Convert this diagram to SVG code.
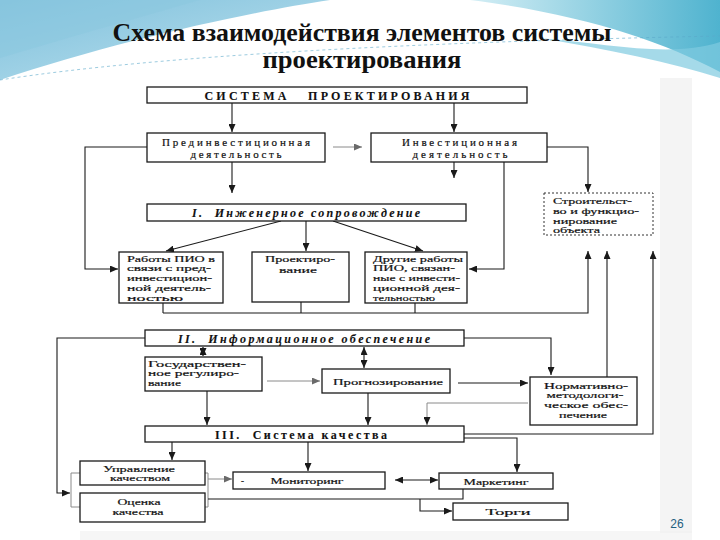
<svg xmlns="http://www.w3.org/2000/svg" width="720" height="540" viewBox="0 0 720 540">
<defs>
<style>
.box{fill:#fff;stroke:#1a1a1a;stroke-width:1.3}
.dbox{fill:#fff;stroke:#333;stroke-width:1;stroke-dasharray:2 2}
.t{font-family:"Liberation Serif","Times New Roman",serif;font-size:9px;fill:#111;stroke:#111;stroke-width:0.2}
.m{font-size:11px}
.b{font-weight:bold;font-size:12px;stroke-width:0.1}
.i{font-style:italic}
.c{text-anchor:middle}
.ln{fill:none;stroke:#1a1a1a;stroke-width:1.1}
.lg{fill:none;stroke:#8a8a8a;stroke-width:1}
.title{font-family:"Liberation Serif","Times New Roman",serif;font-weight:bold;font-size:26px;fill:#111;text-anchor:middle}
</style>
<marker id="a" viewBox="0 0 8 7" refX="8" refY="3.5" markerWidth="8" markerHeight="7" markerUnits="userSpaceOnUse" orient="auto-start-reverse"><path d="M0,0 L8,3.5 L0,7 z" fill="#1a1a1a"/></marker>
<marker id="ag" viewBox="0 0 8 7" refX="8" refY="3.5" markerWidth="8" markerHeight="7" markerUnits="userSpaceOnUse" orient="auto-start-reverse"><path d="M0,0 L8,3.5 L0,7 z" fill="#6a6a6a"/></marker>
<linearGradient id="gl" x1="0" y1="0" x2="1" y2="1"><stop offset="0" stop-color="#7fc0dc"/><stop offset="1" stop-color="#bfe3ef"/></linearGradient>
<linearGradient id="gr" x1="0" y1="0" x2="1" y2="0"><stop offset="0" stop-color="#d4eef5"/><stop offset="1" stop-color="#4fb3cf"/></linearGradient>
</defs>
<rect width="720" height="540" fill="#fff"/>
<g id="background">
<path d="M0,0 H330 C250,12 120,40 0,80 Z" fill="url(#gl)"/>
<path d="M0,0 H200 C130,20 60,40 0,58 Z" fill="#8cc8e0" opacity="0.6"/>
<path d="M470,0 H720 V72 C660,40 580,14 470,0 Z" fill="url(#gr)"/>
<path d="M540,38 C610,44 670,58 720,42 V78 C670,62 610,50 540,38 Z" fill="#7fcbe0" opacity="0.7"/>
<path d="M0,80 C160,55 420,42 720,36" fill="none" stroke="#5aa9c9" stroke-width="1" stroke-dasharray="3 3" opacity="0.6"/>
<rect x="660" y="78" width="32" height="455" fill="#ececec" opacity="0.6"/>
<rect x="80" y="531" width="612" height="9" fill="#f0f0f0" opacity="0.6"/>
</g>
<g id="title">
<text class="title" x="362" y="41" textLength="499" lengthAdjust="spacingAndGlyphs">Схема взаимодействия элементов системы</text>
<text class="title" x="362" y="68" textLength="199" lengthAdjust="spacingAndGlyphs">проектирования</text>
</g>
<g id="connectors">
<path class="ln" d="M232,103 V132" marker-end="url(#a)"/>
<path class="ln" d="M454,103 V132" marker-end="url(#a)"/>
<path class="lg" d="M333,147 H362" marker-end="url(#ag)"/>
<path class="ln" d="M232,162 V193" marker-end="url(#a)"/>
<path class="ln" d="M454,162 V178" marker-end="url(#a)"/>
<path class="ln" d="M147,147 H85 V269 H118" marker-end="url(#a)"/>
<path class="ln" d="M547,147 H588 V192" marker-end="url(#a)"/>
<path class="ln" d="M504,162 V269 H469" marker-end="url(#a)"/>
<path class="ln" d="M281,221 L166,251" marker-end="url(#a)"/>
<path class="ln" d="M306,221 V251" marker-end="url(#a)"/>
<path class="ln" d="M333,221 L423,251" marker-end="url(#a)"/>
<path class="ln" d="M163,303 V313 M301,302 V313 M415,303 V313"/>
<path class="ln" d="M163,313 H588 V251" marker-end="url(#a)"/>
<path class="ln" d="M607,377 V251" marker-end="url(#a)"/>
<path class="ln" d="M464,434 H653 V251" marker-end="url(#a)"/>
<path class="ln" d="M464,338 H551 V375" marker-end="url(#a)"/>
<path class="ln" d="M145,338 H57 V493 H70" marker-end="url(#a)"/>
<path class="ln" d="M203,347 V356" marker-start="url(#a)" marker-end="url(#a)"/>
<path class="ln" d="M364,347 V368" marker-start="url(#a)" marker-end="url(#a)"/>
<path class="lg" d="M267,381 H320" marker-end="url(#ag)"/>
<path class="ln" d="M207,391 V425" marker-end="url(#a)"/>
<path class="ln" d="M368,393 V425" marker-end="url(#a)"/>
<path class="ln" d="M458,383 H528" marker-end="url(#a)"/>
<path class="lg" d="M528,403 H427 V425" marker-end="url(#a)"/>
<path class="ln" d="M172,442 V460" marker-end="url(#a)"/>
<path class="ln" d="M308,442 V471" marker-end="url(#a)"/>
<path class="ln" d="M464,438 H517 V472" marker-end="url(#a)"/>
<path class="lg" d="M80,473 H71 V507 H80"/>
<path class="lg" d="M205,473 H208 V507 H205"/>
<path class="lg" d="M208,479 H232" marker-end="url(#ag)"/>
<path class="ln" d="M395,480 H438" marker-start="url(#a)" marker-end="url(#a)"/>
<path class="ln" d="M208,499 H463 V489"/>
<path class="ln" d="M420,499 V511 H452" marker-end="url(#a)"/>
</g>
<g id="n1"><rect class="box" x="147" y="87" width="380" height="16"/>
<text class="t b c" x="337" y="99.5" textLength="265" xml:space="preserve">СИСТЕМА   ПРОЕКТИРОВАНИЯ</text></g>
<g id="n2"><rect class="box" x="147" y="133" width="178" height="29"/>
<text class="t m c" x="236" y="145.5" textLength="148">Прединвестиционная</text>
<text class="t m c" x="236" y="157.5" textLength="91">деятельность</text></g>
<g id="n3"><rect class="box" x="371" y="133" width="176" height="29"/>
<text class="t m c" x="459.5" y="145.5" textLength="115">Инвестиционная</text>
<text class="t m c" x="460" y="157.5" textLength="95">деятельность</text></g>
<g id="n4"><rect class="box" x="147" y="204" width="319" height="17"/>
<text class="t b i c" x="306" y="217" textLength="228" xml:space="preserve">I.  Инженерное сопровождение</text></g>
<g id="n5"><rect class="box" x="119" y="252" width="104" height="51"/>
<text class="t" x="127" y="261.5" textLength="88" lengthAdjust="spacingAndGlyphs">Работы ПИО в</text>
<text class="t" x="127" y="271.3" textLength="84" lengthAdjust="spacingAndGlyphs">связи с пред-</text>
<text class="t" x="127" y="281.1" textLength="85" lengthAdjust="spacingAndGlyphs">инвестицион-</text>
<text class="t" x="127" y="290.9" textLength="84" lengthAdjust="spacingAndGlyphs">ной деятель-</text>
<text class="t" x="127" y="300.7" textLength="56" lengthAdjust="spacingAndGlyphs">ностью</text></g>
<g id="n6"><rect class="box" x="252" y="252" width="97" height="50"/>
<text class="t c" x="300" y="262" textLength="70" lengthAdjust="spacingAndGlyphs">Проектиро-</text>
<text class="t c" x="298" y="272.5" textLength="38" lengthAdjust="spacingAndGlyphs">вание</text></g>
<g id="n7"><rect class="box" x="365" y="252" width="102" height="51"/>
<text class="t" x="373" y="261.5" textLength="90" lengthAdjust="spacingAndGlyphs">Другие работы</text>
<text class="t" x="373" y="271.3" textLength="82" lengthAdjust="spacingAndGlyphs">ПИО, связан-</text>
<text class="t" x="373" y="281.1" textLength="87" lengthAdjust="spacingAndGlyphs">ные с инвести-</text>
<text class="t" x="373" y="290.9" textLength="87" lengthAdjust="spacingAndGlyphs">ционной дея-</text>
<text class="t" x="373" y="300.7" textLength="62" lengthAdjust="spacingAndGlyphs">тельностью</text></g>
<g id="n8"><rect class="dbox" x="544" y="193" width="109" height="42"/>
<text class="t" x="553" y="204" textLength="79" lengthAdjust="spacingAndGlyphs">Строительст-</text>
<text class="t" x="553" y="213.8" textLength="86" lengthAdjust="spacingAndGlyphs">во и функцио-</text>
<text class="t" x="553" y="223.6" textLength="64" lengthAdjust="spacingAndGlyphs">нирование</text>
<text class="t" x="553" y="233.2" textLength="47" lengthAdjust="spacingAndGlyphs">объекта</text></g>
<g id="n9"><rect class="box" x="145" y="330" width="319" height="16"/>
<text class="t b i c" x="304" y="342.5" textLength="252" xml:space="preserve">II.  Информационное обеспечение</text></g>
<g id="n10"><rect class="box" x="145" y="357" width="117" height="34"/>
<text class="t" x="148" y="366.5" textLength="98" lengthAdjust="spacingAndGlyphs">Государствен-</text>
<text class="t" x="148" y="376.3" textLength="91" lengthAdjust="spacingAndGlyphs">ное регулиро-</text>
<text class="t" x="148" y="386.1" textLength="33" lengthAdjust="spacingAndGlyphs">вание</text></g>
<g id="n11"><rect class="box" x="322" y="369" width="128" height="24"/>
<text class="t c" x="388" y="384.5" textLength="110" lengthAdjust="spacingAndGlyphs">Прогнозирование</text></g>
<g id="n12"><rect class="box" x="530" y="377" width="107" height="48"/>
<text class="t c" x="586" y="388.5" textLength="84" lengthAdjust="spacingAndGlyphs">Нормативно-</text>
<text class="t c" x="585" y="398.3" textLength="77" lengthAdjust="spacingAndGlyphs">методологи-</text>
<text class="t c" x="586" y="408.1" textLength="84" lengthAdjust="spacingAndGlyphs">ческое обес-</text>
<text class="t c" x="583" y="417.9" textLength="48" lengthAdjust="spacingAndGlyphs">печение</text></g>
<g id="n13"><rect class="box" x="145" y="426" width="319" height="16"/>
<text class="t b c" x="301" y="438.5" textLength="172" xml:space="preserve">III.  Система качества</text></g>
<g id="n14"><rect class="box" x="80" y="461" width="125" height="24"/>
<text class="t c" x="139" y="471.5" textLength="72" lengthAdjust="spacingAndGlyphs">Управление</text>
<text class="t c" x="140" y="481.3" textLength="60" lengthAdjust="spacingAndGlyphs">качеством</text></g>
<g id="n15"><rect class="box" x="80" y="493" width="125" height="29"/>
<text class="t c" x="139" y="505" textLength="43" lengthAdjust="spacingAndGlyphs">Оценка</text>
<text class="t c" x="138" y="515" textLength="51" lengthAdjust="spacingAndGlyphs">качества</text></g>
<g id="n16"><rect class="box" x="233" y="472" width="152" height="17"/>
<text class="t" x="241" y="484">-</text>
<text class="t c" x="307" y="484" textLength="73" lengthAdjust="spacingAndGlyphs">Мониторинг</text></g>
<g id="n17"><rect class="box" x="439" y="473" width="114" height="16"/>
<text class="t c" x="496" y="484.5" textLength="65" lengthAdjust="spacingAndGlyphs">Маркетинг</text></g>
<g id="n18"><rect class="box" x="453" y="503" width="115" height="17"/>
<text class="t c" x="508" y="515" textLength="45" lengthAdjust="spacingAndGlyphs">Торги</text></g>
<text x="677" y="528" font-family="Liberation Sans, Arial, sans-serif" font-size="12" fill="#1f6080" text-anchor="middle">26</text>
</svg>
